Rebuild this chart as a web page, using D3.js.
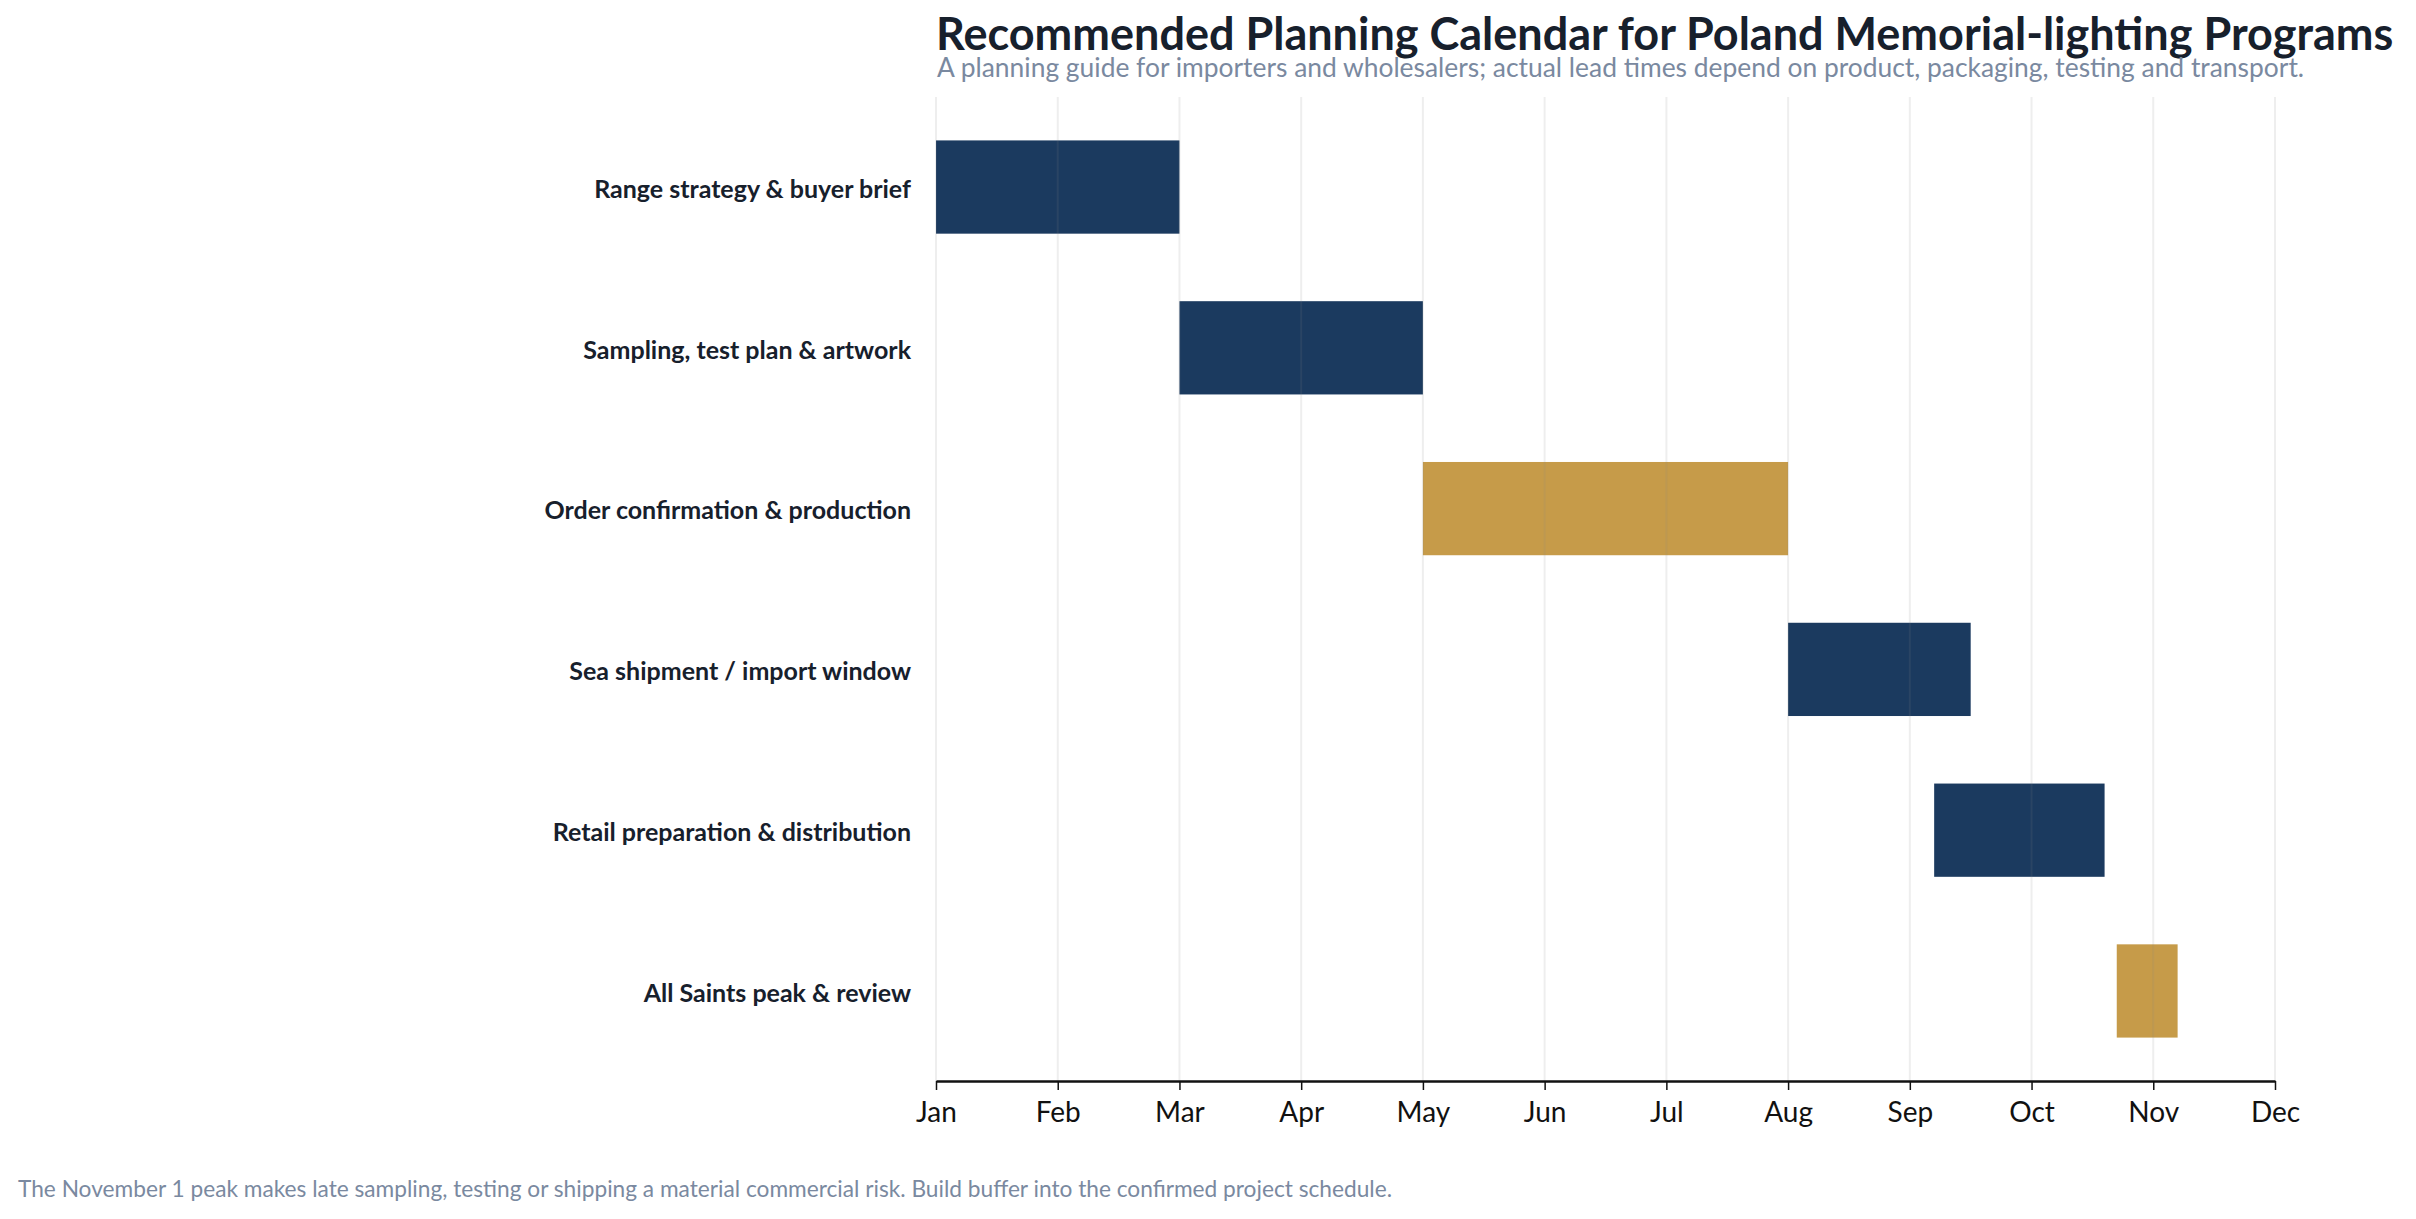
<!DOCTYPE html>
<html>
<head>
<meta charset="utf-8">
<script src="https://cdn.jsdelivr.net/npm/d3@7"></script>
<style>
  body { margin: 0; background: #fff; }
  svg { display: block; font-family: Lato, "Noto Sans", sans-serif; }
</style>
</head>
<body>
<div id="chart"></div>
<script>
// tasks, top to bottom
var tasks = [
  'Range strategy & buyer brief',
  'Sampling, test plan & artwork',
  'Order confirmation & production',
  'Sea shipment / import window',
  'Retail preparation & distribution',
  'All Saints peak & review'
];
// start / end in months from 1 Jan (0 = Jan, 11 = Dec)
var starts = [0, 2, 4, 7, 8.2, 9.7];
var ends = [2, 4, 7, 8.5, 9.6, 10.2];
var phase = ['prep', 'prep', 'critical', 'prep', 'prep', 'critical'];
var months = ['Jan', 'Feb', 'Mar', 'Apr', 'May', 'Jun', 'Jul', 'Aug', 'Sep', 'Oct', 'Nov', 'Dec'];

var W = 2416, H = 1219;
var margin = {top: 97, right: 141, bottom: 138, left: 936};

var svg = d3.select('#chart')
  .append('svg')
  .attr('width', W)
  .attr('height', H);

var x = d3.scaleLinear()
  .domain([0, months.length - 1])
  .range([margin.left, W - margin.right]);

var y = d3.scaleBand()
  .domain(tasks)
  .range([margin.top, H - margin.bottom])
  .paddingInner(0.42)
  .paddingOuter(0.27);

var color = d3.scaleOrdinal()
  .domain(['prep', 'critical'])
  .range(['#1b3a5f', '#c69b49']);

var rows = tasks.map(function (t, i) {
  return {task: t, start: starts[i], end: ends[i], phase: phase[i]};
});

// bars
svg.append('g')
  .selectAll('rect')
  .data(rows)
  .enter()
  .append('rect')
  .attr('x', function (d) { return x(d.start); })
  .attr('y', function (d) { return y(d.task); })
  .attr('width', function (d) { return x(d.end) - x(d.start); })
  .attr('height', y.bandwidth())
  .attr('fill', function (d) { return color(d.phase); });

// month gridlines (on top, faint)
svg.append('g')
  .selectAll('line')
  .data(d3.range(months.length))
  .enter()
  .append('line')
  .attr('x1', function (d) { return x(d); })
  .attr('x2', function (d) { return x(d); })
  .attr('y1', margin.top)
  .attr('y2', H - margin.bottom)
  .attr('stroke', '#888')
  .attr('stroke-opacity', 0.14)
  .attr('stroke-width', 2);

// x axis
var xAxis = svg.append('g')
  .attr('transform', 'translate(0,' + (H - margin.bottom) + ')')
  .call(d3.axisBottom(x)
    .tickValues(d3.range(months.length))
    .tickFormat(function (d) { return months[d]; })
    .tickSize(9)
    .tickPadding(12)
    .tickSizeOuter(0));
xAxis.select('.domain').attr('stroke', '#111').attr('stroke-width', 2.5);
xAxis.selectAll('.tick line').attr('stroke', '#111').attr('stroke-width', 1.5);
xAxis.selectAll('.tick text')
  .attr('fill', '#111')
  .style('font-family', 'Lato')
  .style('font-size', '28px');

// y labels
svg.append('g')
  .selectAll('text')
  .data(tasks)
  .enter()
  .append('text')
  .attr('x', margin.left - 25)
  .attr('y', function (d) { return y(d) + y.bandwidth() / 2 + 2; })
  .attr('dy', '0.35em')
  .attr('text-anchor', 'end')
  .attr('fill', '#17202c')
  .style('font-weight', 700)
  .style('font-size', '25px')
  .text(function (d) { return d; });

// titles
svg.append('text')
  .attr('x', 936)
  .attr('y', 50)
  .attr('fill', '#17202c')
  .style('font-weight', 700)
  .style('font-size', '45px')
  .text('Recommended Planning Calendar for Poland Memorial-lighting Programs');

svg.append('text')
  .attr('x', 937)
  .attr('y', 77)
  .attr('fill', '#7a89a0')
  .style('font-size', '26.4px')
  .text('A planning guide for importers and wholesalers; actual lead times depend on product, packaging, testing and transport.');

svg.append('text')
  .attr('x', 18)
  .attr('y', 1197)
  .attr('fill', '#7a89a0')
  .style('font-size', '22.7px')
  .text('The November 1 peak makes late sampling, testing or shipping a material commercial risk. Build buffer into the confirmed project schedule.');
</script>
</body>
</html>
